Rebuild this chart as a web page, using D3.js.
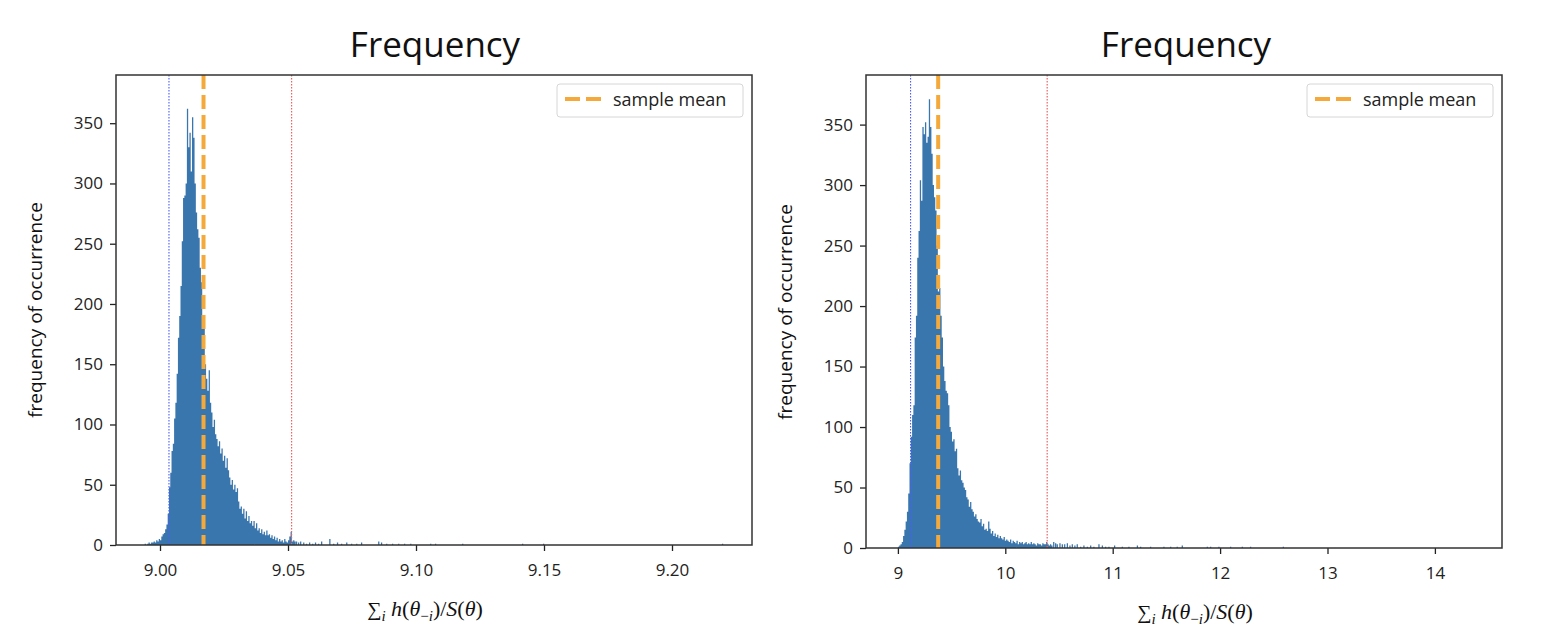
<!DOCTYPE html>
<html>
<head>
<meta charset="utf-8">
<script src="https://cdn.jsdelivr.net/npm/d3@7"></script>
<style>
  body { margin: 0; background: #fff; }
  svg { display: block; }
</style>
</head>
<body>
<svg id="chart"></svg>
<script>
// histogram data
const leftStart = 8.994;
const leftBinWidth = 0.0005;
const leftCounts = [
  1, 0, 1, 2, 1, 2, 2, 3, 2, 4, 3, 5, 4, 7, 9, 10, 13, 17, 26, 48,
  60, 78, 84, 105, 118, 142, 172, 190, 215, 252, 288, 290, 300, 362, 330, 342, 310, 355, 338, 300,
  276, 262, 255, 230, 218, 190, 184, 150, 138, 128, 145, 118, 110, 98, 104, 92, 88, 82, 86, 76,
  80, 70, 74, 64, 72, 62, 56, 50, 54, 46, 50, 44, 47, 36, 30, 32, 26, 30, 22, 28,
  20, 24, 18, 20, 16, 20, 14, 18, 12, 14, 10, 13, 9, 11, 8, 12, 8, 9, 6, 8,
  5, 7, 4, 6, 3, 5, 3, 4, 2, 5, 3, 2, 4, 7, 11, 3, 4, 3
];
const leftTail = [
  [9.0531, 3], [9.0539, 2], [9.0547, 3], [9.0559, 2], [9.0570, 1], [9.0582, 2],
  [9.0594, 1], [9.0605, 2], [9.0617, 1], [9.0629, 3], [9.0661, 5], [9.0676, 1],
  [9.0691, 2], [9.0707, 1], [9.0727, 2], [9.0746, 1], [9.0766, 1], [9.0785, 2],
  [9.0852, 3], [9.0863, 2], [9.0883, 1], [9.0906, 1], [9.0930, 1], [9.0953, 1],
  [9.0977, 1], [9.1055, 1], [9.1074, 1], [9.1180, 1], [9.1414, 1], [9.1496, 1],
  [9.2195, 1]
];
const leftMarkers = { low: 9.0035, mean: 9.0170, high: 9.0514 };
const leftXTicks = [9.00, 9.05, 9.10, 9.15, 9.20];

const rightStart = 9.0;
const rightBinWidth = 0.012;
const rightCounts = [
  1, 2, 3, 5, 10, 15, 22, 30, 45, 70, 92, 110, 118, 174, 192, 240, 262, 304, 287, 348,
  342, 352, 335, 340, 371, 348, 326, 300, 290, 279, 250, 212, 215, 192, 174, 150, 138, 130, 128, 118,
  100, 96, 88, 90, 80, 82, 66, 60, 64, 56, 54, 50, 48, 42, 40, 34, 38, 32, 30, 26,
  28, 24, 22, 21, 24, 18, 20, 15, 16, 14, 22, 16, 12, 14, 10, 12, 9, 11, 8, 10,
  8, 7, 9, 6, 7, 6, 5, 7, 4, 6, 5, 4, 6, 3, 5, 4, 5, 3, 4, 5,
  3, 4, 3, 5, 3, 4, 3, 2, 4, 3, 3, 2, 4, 3, 3, 5, 3, 2, 3, 2
];
const rightTail = [
  [10.445, 5], [10.463, 4], [10.478, 3], [10.503, 4], [10.525, 3], [10.547, 3],
  [10.572, 4], [10.596, 2], [10.618, 3], [10.642, 2], [10.664, 3], [10.696, 1],
  [10.726, 2], [10.758, 1], [10.789, 2], [10.819, 1], [10.866, 3], [10.898, 2],
  [10.928, 1], [10.959, 1], [11.012, 2], [11.084, 1], [11.145, 1], [11.224, 2],
  [11.254, 1], [11.347, 1], [11.471, 1], [11.534, 1], [11.595, 1], [11.642, 2],
  [11.875, 1], [11.906, 1], [11.983, 1], [12.092, 1], [12.201, 1], [12.278, 1],
  [12.583, 1]
];
const rightMarkers = { low: 9.118, mean: 9.375, high: 10.39 };
const rightXTicks = [9, 10, 11, 12, 13, 14];

const yTicks = [0, 50, 100, 150, 200, 250, 300, 350];
const titleText = "Frequency";
const yLabelText = "frequency of occurrence";
const legendText = "sample mean";

// page size
const width = 1544;
const height = 640;

const barColor = "#3a76ae";
const meanColor = "#f4a93a";
const font = "'Open Sans', 'DejaVu Sans', sans-serif";

const svg = d3.select("#chart")
  .attr("width", width)
  .attr("height", height)
  .attr("viewBox", [0, 0, width, height]);

function drawMathLabel(g, cx, cy) {
  const t = g.append("text")
    .attr("x", cx)
    .attr("y", cy)
    .attr("text-anchor", "middle")
    .attr("font-family", "'Liberation Serif', 'DejaVu Serif', serif")
    .attr("font-size", 22)
    .attr("fill", "#111");
  t.append("tspan").attr("font-size", 20).text("\u2211");
  t.append("tspan").attr("font-style", "italic").attr("font-size", 15).attr("dy", 5).text("i");
  t.append("tspan").attr("dy", -5).text(" ");
  t.append("tspan").attr("font-style", "italic").text("h");
  t.append("tspan").text("(");
  t.append("tspan").attr("font-style", "italic").text("\u03b8");
  t.append("tspan").attr("font-size", 15).attr("dy", 5).text("\u2212");
  t.append("tspan").attr("font-size", 15).attr("font-style", "italic").text("i");
  t.append("tspan").attr("dy", -5).text(")/");
  t.append("tspan").attr("font-style", "italic").text("S");
  t.append("tspan").text("(");
  t.append("tspan").attr("font-style", "italic").text("\u03b8");
  t.append("tspan").text(")");
}

function drawPanel(p) {
  const g = svg.append("g");

  const x = d3.scaleLinear(p.xDomain, [p.left, p.right]);
  const y = d3.scaleLinear([0, p.yMax], [p.bottom, p.top]);

  const bins = p.counts.map((c, i) => ({ x0: p.start + i * p.binWidth, c }))
    .concat(p.tail.map(([v, c]) => ({ x0: v, c })))
    .filter(d => d.c > 0);

  // bars, drawn into one path so neighbouring bins don't leave seams
  const bars = d3.path();
  bins.forEach(d => {
    const x0 = x(d.x0);
    const w = Math.max(x(d.x0 + p.binWidth) - x0, 1);
    bars.rect(x0, y(d.c), w, y(0) - y(d.c));
  });
  g.append("path")
    .attr("d", bars.toString())
    .attr("fill", barColor);

  // reference lines
  const vline = (v, color, dash, w) => g.append("line")
    .attr("x1", x(v)).attr("x2", x(v))
    .attr("y1", p.top).attr("y2", p.bottom)
    .attr("stroke", color)
    .attr("stroke-width", w)
    .attr("stroke-dasharray", dash);

  vline(p.markers.low, "#4a5cff", "1.5,1.5", 1.1);
  vline(p.markers.high, "#f06262", "1.5,1.5", 1.2);
  vline(p.markers.mean, meanColor, "14,6", 4);

  // x axis
  g.append("g")
    .attr("transform", `translate(0,${p.bottom})`)
    .call(d3.axisBottom(x).tickValues(p.xTicks).tickFormat(p.xFormat).tickSize(6).tickPadding(13))
    .call(a => a.select(".domain").remove())
    .call(a => a.selectAll(".tick line").attr("stroke", "#222").attr("stroke-width", 1.3))
    .call(a => a.selectAll(".tick text").attr("font-family", font).attr("font-size", 17).attr("fill", "#222"));

  // y axis
  g.append("g")
    .attr("transform", `translate(${p.left},0)`)
    .call(d3.axisLeft(y).tickValues(yTicks).tickSize(6).tickPadding(7))
    .call(a => a.select(".domain").remove())
    .call(a => a.selectAll(".tick line").attr("stroke", "#222").attr("stroke-width", 1.3))
    .call(a => a.selectAll(".tick text").attr("font-family", font).attr("font-size", 17).attr("fill", "#222"));

  // frame
  g.append("rect")
    .attr("x", p.left).attr("y", p.top)
    .attr("width", p.right - p.left).attr("height", p.bottom - p.top)
    .attr("fill", "none")
    .attr("stroke", "#333")
    .attr("stroke-width", 1.5);

  // title
  g.append("text")
    .attr("x", p.titleX)
    .attr("y", 57)
    .attr("text-anchor", "middle")
    .attr("font-family", font)
    .attr("font-size", 35)
    .attr("fill", "#111")
    .text(titleText);

  // y label
  g.append("text")
    .attr("transform", `translate(${p.yLabelX},${p.yLabelY}) rotate(-90)`)
    .attr("text-anchor", "middle")
    .attr("dy", "0.35em")
    .attr("font-family", font)
    .attr("font-size", 19)
    .attr("fill", "#111")
    .text(yLabelText);

  // x label
  drawMathLabel(g, p.xLabelX, p.xLabelY);

  // legend
  const lx = p.right - 195, ly = p.top + 9;
  g.append("rect")
    .attr("x", lx).attr("y", ly)
    .attr("width", 186).attr("height", 33)
    .attr("rx", 3)
    .attr("fill", "#fff")
    .attr("fill-opacity", 0.8)
    .attr("stroke", "#d6d6d6");
  g.append("line")
    .attr("x1", lx + 8).attr("x2", lx + 44)
    .attr("y1", ly + 15).attr("y2", ly + 15)
    .attr("stroke", meanColor)
    .attr("stroke-width", 4)
    .attr("stroke-dasharray", "15,6");
  g.append("text")
    .attr("x", lx + 56).attr("y", ly + 16)
    .attr("dy", "0.35em")
    .attr("font-family", font)
    .attr("font-size", 18)
    .attr("fill", "#222")
    .text(legendText);
}

drawPanel({
  left: 116, right: 752, top: 75, bottom: 545,
  xDomain: [8.98281, 9.23125], yMax: 390,
  start: leftStart, binWidth: leftBinWidth, counts: leftCounts, tail: leftTail,
  markers: leftMarkers, xTicks: leftXTicks, xFormat: d3.format(".2f"),
  titleX: 435, yLabelX: 35, yLabelY: 310, xLabelX: 425, xLabelY: 616
});

drawPanel({
  left: 866, right: 1502, top: 75, bottom: 548,
  xDomain: [8.703, 14.6248], yMax: 391,
  start: rightStart, binWidth: rightBinWidth, counts: rightCounts, tail: rightTail,
  markers: rightMarkers, xTicks: rightXTicks, xFormat: d3.format("d"),
  titleX: 1186, yLabelX: 785, yLabelY: 312, xLabelX: 1195, xLabelY: 619
});
</script>
</body>
</html>
